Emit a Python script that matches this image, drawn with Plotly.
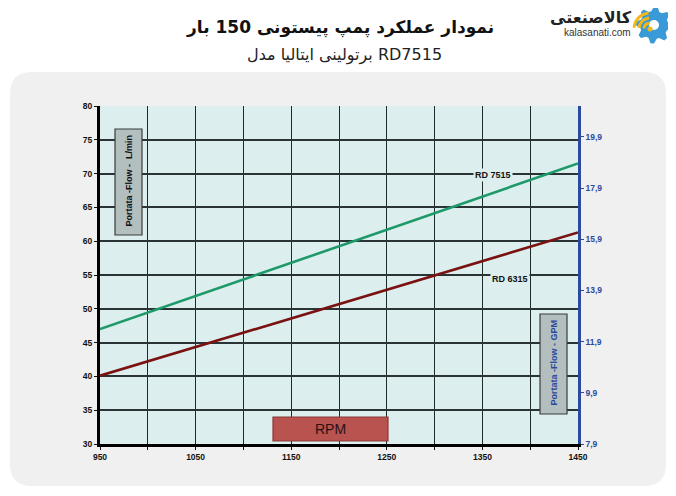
import math
import plotly.graph_objects as go

# ---- data ----
rpm = [950, 1450]
rd7515_lpm = [47.0, 71.5]
rd6315_lpm = [40.1, 61.3]
x_tick_vals = [950, 1050, 1150, 1250, 1350, 1450]
y_tick_vals = [30, 35, 40, 45, 50, 55, 60, 65, 70, 75, 80]
gpm_tick_vals = [7.9, 9.9, 11.9, 13.9, 15.9, 17.9, 19.9]
gpm_tick_text = ["7,9", "9,9", "11,9", "13,9", "15,9", "17,9", "19,9"]
LPM_PER_GPM = 3.785

title_text = "نمودار عملکرد پمپ پیستونی 150 بار"
subtitle_text = "برتولینی ایتالیا مدل RD7515"

# ---- layout geometry (screen pixels) ----
W, H = 676, 496
OFF = 8  # page body margin
L, R, T, B = 100, 578, 106, 444

def px(x):
    return (x - L) / (R - L)

def py(y):
    return (B - y) / (B - T)

GREEN = "#1e9a6a"
DRED = "#7a1212"
BLUE = "#2b4a9e"
PLOTBG = "#ddeeee"

fig = go.Figure()
fig.add_trace(go.Scatter(x=rpm, y=rd7515_lpm, mode="lines",
                         line=dict(color=GREEN, width=2.6), showlegend=False,
                         hoverinfo="skip"))
fig.add_trace(go.Scatter(x=rpm, y=rd6315_lpm, mode="lines",
                         line=dict(color=DRED, width=2.6), showlegend=False,
                         hoverinfo="skip"))
fig.add_trace(go.Scatter(x=[rpm[0]], y=[gpm_tick_vals[0]], yaxis="y2",
                         mode="markers", marker=dict(opacity=0),
                         showlegend=False, hoverinfo="skip"))

tickfont = dict(family="Liberation Sans, Arial", size=8.5, color="#111", weight="bold")

fig.update_layout(
    width=W, height=H,
    margin=dict(l=L - OFF, r=W - (R - OFF), t=T - OFF, b=H - (B - OFF), pad=0),
    paper_bgcolor="white",
    plot_bgcolor=PLOTBG,
    xaxis=dict(range=[950, 1450], tickvals=x_tick_vals, ticktext=[str(v) for v in x_tick_vals],
               showgrid=True, gridcolor="#1f2a2a", gridwidth=1.3,
               minor=dict(tick0=950, dtick=50, showgrid=True, gridcolor="#1f2a2a",
                          gridwidth=1.3, ticks="outside", ticklen=3, tickcolor="#111"),
               ticks="outside", ticklen=3, tickcolor="#111",
               showline=True, linecolor="#000", linewidth=3,
               tickfont=tickfont, zeroline=False, fixedrange=True),
    yaxis=dict(range=[30, 80], tickvals=y_tick_vals,
               showgrid=True, gridcolor="#2a3434", gridwidth=1.6,
               ticks="outside", ticklen=3, tickcolor="#111",
               showline=True, linecolor="#000", linewidth=3,
               tickfont=tickfont, zeroline=False, fixedrange=True),
    yaxis2=dict(overlaying="y", side="right",
                range=[7.9, 7.9 + 50 / LPM_PER_GPM],
                tickvals=gpm_tick_vals, ticktext=gpm_tick_text,
                showgrid=False, zeroline=False,
                ticks="outside", ticklen=3, tickcolor=BLUE,
                showline=True, linecolor=BLUE, linewidth=2.5,
                tickfont=dict(family="Liberation Sans, Arial", size=8.5, color=BLUE, weight="bold"),
                fixedrange=True),
)

shapes = []
# rounded panel
x0, y0, x1, y1, r = 10, 72, 666, 486, 22
panel = (f"M {px(x0+r)},{py(y0)} L {px(x1-r)},{py(y0)} "
         f"Q {px(x1)},{py(y0)} {px(x1)},{py(y0+r)} "
         f"L {px(x1)},{py(y1-r)} Q {px(x1)},{py(y1)} {px(x1-r)},{py(y1)} "
         f"L {px(x0+r)},{py(y1)} Q {px(x0)},{py(y1)} {px(x0)},{py(y1-r)} "
         f"L {px(x0)},{py(y0+r)} Q {px(x0)},{py(y0)} {px(x0+r)},{py(y0)} Z")
shapes.append(dict(type="path", path=panel, xref="paper", yref="paper",
                   fillcolor="#f0f0f0", line=dict(width=0), layer="below"))
shapes.append(dict(type="rect", xref="paper", yref="paper", x0=0, x1=1, y0=0, y1=1,
                   fillcolor=PLOTBG, line=dict(width=0), layer="below"))
# left label box
shapes.append(dict(type="rect", xref="paper", yref="paper",
                   x0=px(115), x1=px(142), y0=py(235), y1=py(129),
                   fillcolor="#b3bfbf", line=dict(color="#3a3a3a", width=1.2)))
# right label box
shapes.append(dict(type="rect", xref="paper", yref="paper",
                   x0=px(540), x1=px(567), y0=py(414), y1=py(314),
                   fillcolor="#b3bfbf", line=dict(color="#3a3a3a", width=1.2)))
# RPM box
shapes.append(dict(type="rect", xref="paper", yref="paper",
                   x0=px(273), x1=px(388), y0=py(441), y1=py(417),
                   fillcolor="#b85350", line=dict(color="#8a3836", width=1.2)))

# logo gear
gcx, gcy = 654, 25
teeth = 8
pts = []
for i in range(teeth * 4):
    a = 2 * math.pi * i / (teeth * 4) + math.pi / 8
    rr = 18.5 if (i % 4) in (1, 2) else 14
    pts.append((gcx + rr * math.cos(a), gcy - rr * math.sin(a)))
gear = "M " + " L ".join(f"{px(a)},{py(b)}" for a, b in pts) + " Z"
shapes.append(dict(type="path", path=gear, xref="paper", yref="paper",
                   fillcolor="#3a9ad8", line=dict(width=0)))
shapes.append(dict(type="circle", xref="paper", yref="paper",
                   x0=px(gcx - 5), x1=px(gcx + 5), y0=py(gcy + 5), y1=py(gcy - 5),
                   fillcolor="white", line=dict(width=0)))
acx, acy = 650, 29
for rad in (6, 11, 16):
    arc_pts = []
    for k in range(13):
        a = math.radians(95 + k * 80 / 12)
        arc_pts.append((acx + rad * math.cos(a), acy - rad * math.sin(a)))
    path = "M " + " L ".join(f"{px(a)},{py(b)}" for a, b in arc_pts)
    shapes.append(dict(type="path", path=path, xref="paper", yref="paper",
                       line=dict(color="#f3b71a", width=3)))
shapes.append(dict(type="circle", xref="paper", yref="paper",
                   x0=px(acx - 2.5), x1=px(acx + 2.5), y0=py(acy + 2.5), y1=py(acy - 2.5),
                   fillcolor="#f3b71a", line=dict(width=0)))

fig.update_layout(shapes=shapes)

ann = []
ann.append(dict(text=title_text, x=px(340), y=py(28), xref="paper", yref="paper",
                showarrow=False, xanchor="center", yanchor="middle",
                font=dict(family="DejaVu Sans", size=17, color="#111", weight="bold")))
ann.append(dict(text=subtitle_text, x=px(344), y=py(55), xref="paper", yref="paper",
                showarrow=False, xanchor="center", yanchor="middle",
                font=dict(family="DejaVu Sans", size=16, color="#222")))
ann.append(dict(text="کالاصنعتی", x=px(591), y=py(17), xref="paper", yref="paper",
                showarrow=False, xanchor="center", yanchor="middle",
                font=dict(family="DejaVu Sans", size=16, color="#222", weight="bold")))
ann.append(dict(text="kalasanati.com", x=px(597), y=py(32), xref="paper", yref="paper",
                showarrow=False, xanchor="center", yanchor="middle",
                font=dict(family="Liberation Sans, Arial", size=10, color="#333")))
ann.append(dict(text="RD 7515", x=1361, y=69.8, xref="x", yref="y",
                showarrow=False, bgcolor=PLOTBG, borderpad=1,
                font=dict(family="Liberation Sans, Arial", size=9, color="#111", weight="bold")))
ann.append(dict(text="RD 6315", x=1379, y=54.4, xref="x", yref="y",
                showarrow=False, bgcolor=PLOTBG, borderpad=1,
                font=dict(family="Liberation Sans, Arial", size=9, color="#111", weight="bold")))
ann.append(dict(text="Portata -Flow -  L/min", x=px(128.5), y=py(181), xref="paper", yref="paper",
                showarrow=False, textangle=-90, xanchor="center", yanchor="middle",
                font=dict(family="Liberation Sans, Arial", size=9, color="#111", weight="bold")))
ann.append(dict(text="Portata -Flow - GPM", x=px(553.5), y=py(363), xref="paper", yref="paper",
                showarrow=False, textangle=-90, xanchor="center", yanchor="middle",
                font=dict(family="Liberation Sans, Arial", size=9, color=BLUE, weight="bold")))
ann.append(dict(text="RPM", x=px(330.5), y=py(429), xref="paper", yref="paper",
                showarrow=False, xanchor="center", yanchor="middle",
                font=dict(family="Liberation Sans, Arial", size=14, color="#2a1212")))
fig.update_layout(annotations=ann)

fig.write_html("out.html")
